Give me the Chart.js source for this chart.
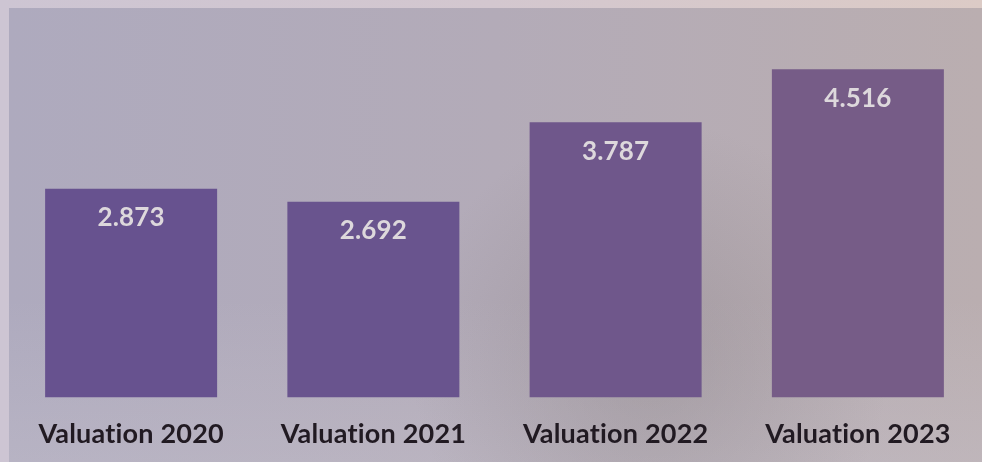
<!DOCTYPE html>
<html>
<head>
<meta charset="utf-8">
<script src="https://cdn.jsdelivr.net/npm/chart.js@4.4.1/dist/chart.umd.min.js"></script>
<style>
  html, body { margin: 0; padding: 0; background: #cdc5d2; }
  #wrap { position: relative; width: 982px; height: 462px; }
</style>
</head>
<body>
<div id="wrap"><canvas id="c" width="982" height="462"></canvas></div>
<script>
const categories = ['Valuation 2020', 'Valuation 2021', 'Valuation 2022', 'Valuation 2023'];
const valuations = [2.873, 2.692, 3.787, 4.516];
const valueLabels = ['2.873', '2.692', '3.787', '4.516'];
const barColors = ['#67528f', '#69548e', '#6f578b', '#765c87'];

const backgroundPlugin = {
  id: 'bg',
  beforeDraw(chart) {
    const ctx = chart.ctx;
    const w = chart.width, h = chart.height;
    ctx.letterSpacing = '0.2px';
    ctx.save();
    let g = ctx.createLinearGradient(0, 0, w, 0);
    g.addColorStop(0, '#cdc5d3');
    g.addColorStop(0.5, '#d3c7cf');
    g.addColorStop(1, '#dccbc6');
    ctx.fillStyle = g;
    ctx.fillRect(0, 0, w, h);
    // inner panel
    g = ctx.createLinearGradient(9, 0, w, 0);
    g.addColorStop(0, '#aeaabe');
    g.addColorStop(0.5, '#b3abb8');
    g.addColorStop(1, '#baaeb0');
    ctx.fillStyle = g;
    ctx.fillRect(9, 8, w - 9, h - 8);
    // soft lighter lower band
    g = ctx.createLinearGradient(0, 300, 0, h);
    g.addColorStop(0, 'rgba(200,196,206,0)');
    g.addColorStop(1, 'rgba(200,196,206,0.35)');
    ctx.fillStyle = g;
    ctx.fillRect(9, 300, w - 9, h - 300);
    // soft shadow behind bars bottom right
    const rg = ctx.createRadialGradient(650, 360, 10, 650, 360, 240);
    rg.addColorStop(0, 'rgba(120,112,112,0.28)');
    rg.addColorStop(1, 'rgba(120,112,112,0)');
    ctx.fillStyle = rg;
    ctx.fillRect(9, 8, w - 9, h - 8);
    ctx.restore();
  }
};

const valueLabelPlugin = {
  id: 'valueLabels',
  afterDatasetsDraw(chart) {
    const ctx = chart.ctx;
    const meta = chart.getDatasetMeta(0);
    ctx.save();
    ctx.font = 'bold 26px Lato, "Open Sans", sans-serif';
    ctx.fillStyle = '#ddd8dc';
    ctx.textAlign = 'center';
    ctx.textBaseline = 'middle';
    meta.data.forEach((bar, i) => {
      ctx.fillText(valueLabels[i], bar.x, bar.y + 29);
    });
    ctx.restore();
  }
};

new Chart(document.getElementById('c'), {
  type: 'bar',
  data: {
    labels: categories,
    datasets: [{
      data: valuations,
      backgroundColor: barColors,
      borderWidth: 0,
      categoryPercentage: 1.0,
      barPercentage: 0.71
    }]
  },
  options: {
    responsive: false,
    animation: false,
    events: [],
    layout: { padding: { left: 10, right: 3, top: 34, bottom: -8 } },
    plugins: { legend: { display: false }, tooltip: { enabled: false } },
    scales: {
      x: {
        grid: { display: false, drawTicks: false },
        border: { display: false },
        ticks: {
          color: '#211a22',
          font: { family: 'Lato', weight: 'bold', size: 27 },
          padding: 20,
          maxRotation: 0,
          autoSkip: false
        }
      },
      y: {
        display: false,
        min: 0,
        max: 5
      }
    }
  },
  plugins: [backgroundPlugin, valueLabelPlugin]
});
</script>
</body>
</html>
